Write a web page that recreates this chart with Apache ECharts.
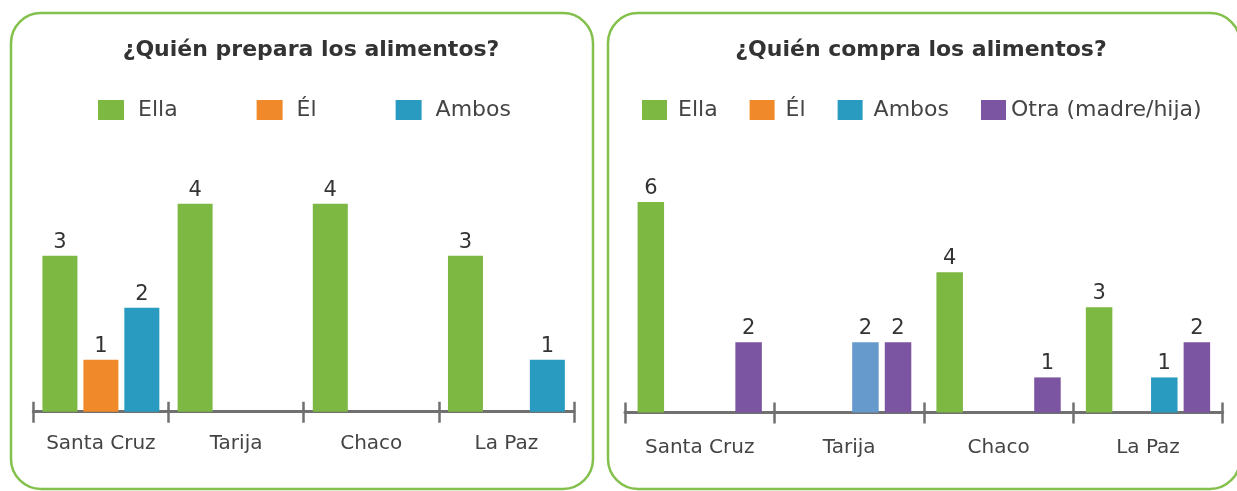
<!DOCTYPE html>
<html lang="es">
<head>
    <meta charset="UTF-8">
    <title>Alimentos</title>
    <style>
        body {
            padding: 0;
            margin: 0;
            background-color: #FFFFFF;
            overflow: hidden;
        }
        #main_chart {
            width: 1237px;
            height: 491px;
        }
    </style>
</head>
<body>
<div id="main_chart"></div>
<script type="text/javascript" src="https://cdn.jsdelivr.net/npm/echarts@6/dist/echarts.min.js"></script>
<script type="text/javascript">
var regiones = ['Santa Cruz', 'Tarija', 'Chaco', 'La Paz'];

// ¿Quién prepara los alimentos?
var preparaElla = [3, 4, 4, 3];
var preparaEl = [1, 0, 0, 0];
var preparaAmbos = [2, 0, 0, 1];

// ¿Quién compra los alimentos?
var compraElla = [6, 0, 4, 3];
var compraEl = [0, 0, 0, 0];
var compraAmbos = [0, 2, 0, 1];
var compraOtra = [2, 2, 1, 2];

var verde = '#7cb842', naranja = '#f0892a', azul = '#2a9bc0', morado = '#7b55a2';
var fuente = 'DejaVu Sans';
var gris = '#707070';

// sin barra ni etiqueta cuando vale 0
function limpiar(datos) {
    return datos.map(function (v) { return v === 0 ? '-' : v; });
}

function barra(nombre, datos, color, eje, ancho, hueco) {
    return {
        type: 'bar',
        name: nombre,
        xAxisIndex: eje,
        yAxisIndex: eje === 0 ? 0 : 1,
        data: datos,
        barWidth: ancho,
        barGap: hueco,
        itemStyle: { color: color },
        label: {
            show: true,
            position: 'top',
            distance: 3,
            color: '#333',
            fontFamily: fuente,
            fontSize: 21
        }
    };
}

function ejeX(grid, margen) {
    return {
        type: 'category',
        gridIndex: grid,
        position: 'bottom',
        data: regiones,
        axisLine: { show: true, lineStyle: { color: gris, width: 3 } },
        axisTick: { show: true, interval: 0, length: 11, lineStyle: { color: gris, width: 2.5 } },
        axisLabel: { interval: 0, margin: margen, color: '#444', fontFamily: fuente, fontSize: 20 }
    };
}

// marcas hacia arriba del eje
function ejeMarcas(grid) {
    return {
        type: 'category',
        gridIndex: grid,
        position: 'bottom',
        data: regiones,
        axisLine: { show: false },
        axisTick: { show: true, interval: 0, inside: true, length: 10, lineStyle: { color: gris, width: 2.5 } },
        axisLabel: { show: false }
    };
}

var ambosCompra = limpiar(compraAmbos);
ambosCompra[1] = { value: compraAmbos[1], itemStyle: { color: '#6699cc' } };

var tituloEstilo = { color: '#333', fontFamily: fuente, fontSize: 22, fontWeight: 'bold' };

var option = {
    animation: false,
    backgroundColor: '#fff',
    title: [
        { text: '¿Quién prepara los alimentos?', left: 306, top: 34, textAlign: 'center', textStyle: tituloEstilo },
        { text: '¿Quién compra los alimentos?', left: 916, top: 34, textAlign: 'center', textStyle: tituloEstilo }
    ],
    legend: [
        {
            data: ['Ella', 'Él', 'Ambos'],
            left: 93, top: 94,
            icon: 'rect', itemWidth: 26, itemHeight: 20, itemGap: 79,
            textStyle: { color: '#444', fontFamily: fuente, fontSize: 22, padding: [0, 0, 0, 9] }
        },
        {
            data: ['Ella', 'Él', 'Ambos', { name: 'Otra (madre/hija)', textStyle: { padding: 0 } }],
            left: 637, top: 94,
            icon: 'rect', itemWidth: 25, itemHeight: 20, itemGap: 32,
            textStyle: { color: '#444', fontFamily: fuente, fontSize: 22, padding: [0, 0, 0, 6] }
        }
    ],
    grid: [
        { left: 33.3, width: 540.7, top: 151.7, height: 260, containLabel: false },
        { left: 625, width: 597.7, top: 202, height: 210.5, containLabel: false }
    ],
    xAxis: [ejeX(0, 22), ejeX(1, 25), ejeMarcas(0), ejeMarcas(1)],
    yAxis: [
        { type: 'value', gridIndex: 0, min: 0, max: 5, show: false },
        { type: 'value', gridIndex: 1, min: 0, max: 6, show: false }
    ],
    series: [
        barra('Ella', limpiar(preparaElla), verde, 0, 35, '17%'),
        barra('Él', limpiar(preparaEl), naranja, 0, 35, '17%'),
        barra('Ambos', limpiar(preparaAmbos), azul, 0, 35, '17%'),
        barra('Ella', limpiar(compraElla), verde, 1, 26.5, '23%'),
        barra('Él', limpiar(compraEl), naranja, 1, 26.5, '23%'),
        barra('Ambos', ambosCompra, azul, 1, 26.5, '23%'),
        barra('Otra (madre/hija)', limpiar(compraOtra), morado, 1, 26.5, '23%')
    ],
    graphic: [
        { type: 'rect', z: -1, shape: { x: 11, y: 13, width: 582, height: 476, r: 30 }, style: { fill: 'none', stroke: '#84c04c', lineWidth: 2.5 } },
        { type: 'rect', z: -1, shape: { x: 608, y: 13, width: 632, height: 476, r: 30 }, style: { fill: 'none', stroke: '#84c04c', lineWidth: 2.5 } }
    ]
};

var chart = echarts.init(document.getElementById('main_chart'));
chart.setOption(option);
</script>
</body>
</html>
